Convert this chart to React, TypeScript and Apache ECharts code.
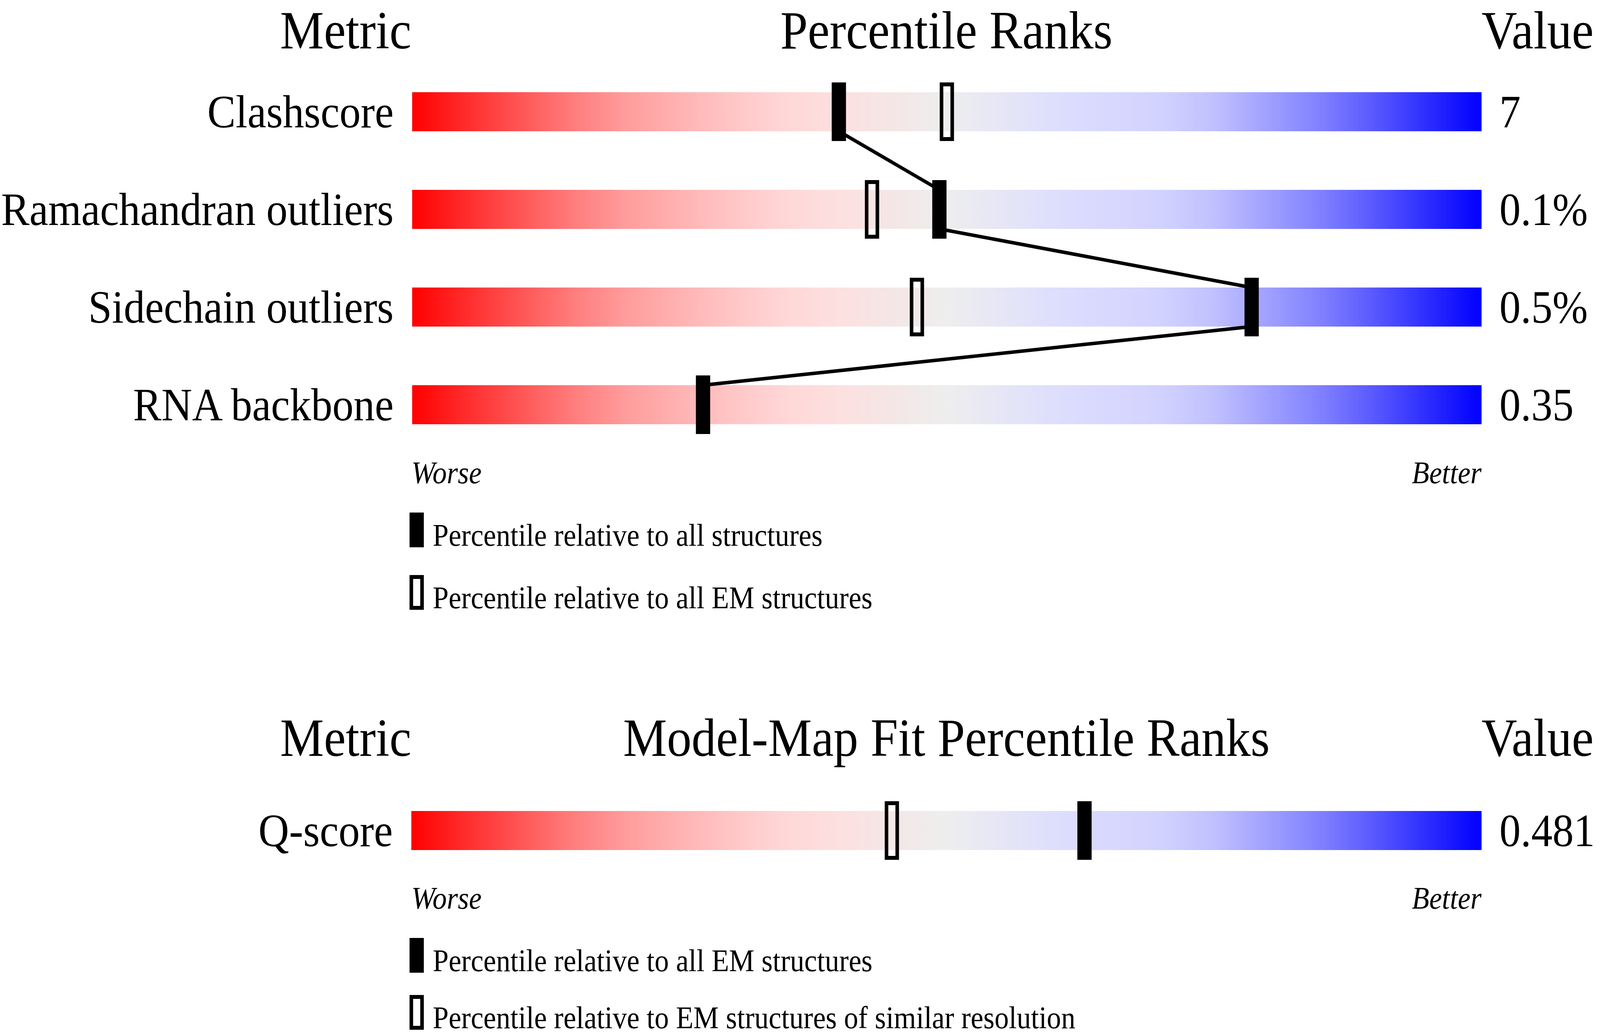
import React, { useEffect, useRef } from 'react';
import * as echarts from 'echarts';

const W = 4485;
const H = 2652;
const FONT = '"Liberation Serif", "Times New Roman", Times, serif';

// ---- data ----
const validationMetrics = ['Clashscore', 'Ramachandran outliers', 'Sidechain outliers', 'RNA backbone'];
const validationValues = ['7', '0.1%', '0.5%', '0.35'];
const pctAllStructures = [39.9, 49.3, 78.5, 27.2];
const pctAllEM: (number | null)[] = [50.0, 43.0, 47.2, null];

const fitMetrics = ['Q-score'];
const fitValues = ['0.481'];
const fitPctAllEM = [62.9];
const fitPctSimilarRes = [44.9];

const panel1Title = 'Percentile Ranks';
const panel2Title = 'Model-Map Fit Percentile Ranks';
const metricHeader = 'Metric';
const valueHeader = 'Value';
const worseLabel = 'Worse';
const betterLabel = 'Better';
const legend1Names = ['Percentile relative to all structures', 'Percentile relative to all EM structures'];
const legend2Names = ['Percentile relative to all EM structures', 'Percentile relative to EM structures of similar resolution'];

const gradientStops: [number, string][] = [
  [0.0, '#ff0000'], [0.05, '#ff2c2c'], [0.1, '#ff5454'], [0.15, '#ff7c7c'], [0.2, '#ff9c9c'],
  [0.25, '#ffb2b2'], [0.3, '#ffc6c6'], [0.35, '#ffd7d7'], [0.4, '#fde0e0'], [0.45, '#f4e6e6'],
  [0.5, '#eeeeee'], [0.55, '#e6e6f6'], [0.6, '#dedefd'], [0.65, '#d8d8ff'], [0.7, '#d2d2ff'],
  [0.75, '#c0c0ff'], [0.8, '#a0a0ff'], [0.85, '#8080ff'], [0.9, '#5858ff'], [0.95, '#2c2cff'],
  [1.0, '#0000ff'],
];

// ---- layout (px) ----
const BAR_LEFT = 1153;
const BAR_W = 3000;
const ROW = 250;
const BAR_H = 100;
const MARK_W = 40;
const MARK_H = 150;
const P1_TOP = 161;
const P2_TOP = 2001;
const HEAD_FS = 138;
const ROW_FS = 119;
const SMALL_FS = 80;
const CENTRAL = 0.3375;
const LEG_W = 40;
const LEG_H = 89;
const LEG_BORDER = 10;

const OPEN_MARK = `path://M0 0H${MARK_W}V${MARK_H}H0Z M10 10V${MARK_H - 10}H${MARK_W - 10}V10Z`;

function gradient() {
  return new echarts.graphic.LinearGradient(0, 0, 1, 0,
    gradientStops.map(([offset, color]) => ({ offset, color })));
}

function text(x: number, baseline: number, str: string, fs: number, align: string, italic = false) {
  return {
    type: 'text',
    x,
    y: baseline - CENTRAL * fs,
    silent: true,
    style: {
      text: str,
      fontSize: fs,
      fontFamily: FONT,
      fontStyle: italic ? 'italic' : 'normal',
      fill: '#000',
      textAlign: align,
      textVerticalAlign: 'middle',
    },
  };
}

function legendItems(names: string[], tops: number[], openIndex: number) {
  const out: any[] = [];
  names.forEach((name, i) => {
    const top = tops[i];
    if (i === openIndex) {
      out.push({
        type: 'rect',
        silent: true,
        shape: { x: 1148 + LEG_BORDER / 2, y: top + LEG_BORDER / 2, width: LEG_W - LEG_BORDER, height: LEG_H - LEG_BORDER },
        style: { fill: 'none', stroke: '#000', lineWidth: LEG_BORDER },
      });
    } else {
      out.push({
        type: 'rect',
        silent: true,
        shape: { x: 1148, y: top, width: LEG_W, height: LEG_H },
        style: { fill: '#000' },
      });
    }
    out.push(text(1213, top + 85, name, SMALL_FS, 'left'));
  });
  return out;
}

function buildOption() {
  const catAxis = (gridIndex: number, data: string[], position: 'left' | 'right') => ({
    type: 'category',
    gridIndex,
    data,
    inverse: true,
    position,
    axisLine: { show: false },
    axisTick: { show: false },
    splitLine: { show: false },
    axisLabel: {
      interval: 0,
      margin: position === 'left' ? 52 : 50,
      fontFamily: FONT,
      fontSize: ROW_FS,
      color: '#000',
      padding: [20, 0, 0, 0],
    },
  });
  const valAxis = (gridIndex: number) => ({
    type: 'value',
    gridIndex,
    min: 0,
    max: 100,
    show: false,
  });

  const connectorSeries = (xi: number, yi: number, pcts: number[]) => ({
    type: 'custom',
    xAxisIndex: xi,
    yAxisIndex: yi,
    z: 2,
    silent: true,
    data: pcts.map((v, i) => [v, i]),
    renderItem: (params: any, api: any) => {
      const i = params.dataIndex;
      if (i >= pcts.length - 1) return null;
      const p0 = api.coord([pcts[i], i]);
      const p1 = api.coord([pcts[i + 1], i + 1]);
      return {
        type: 'line',
        shape: { x1: p0[0], y1: p0[1] + BAR_H / 2, x2: p1[0], y2: p1[1] - BAR_H / 2 },
        style: { stroke: '#000', lineWidth: 9, fill: null },
      };
    },
  });

  const barSeries = (xi: number, yi: number, n: number) => ({
    type: 'bar',
    xAxisIndex: xi,
    yAxisIndex: yi,
    z: 1,
    silent: true,
    barWidth: BAR_H,
    data: new Array(n).fill(100),
    itemStyle: { color: gradient() },
  });

  const markSeries = (name: string, xi: number, yi: number, pcts: (number | null)[], open: boolean) => ({
    type: 'scatter',
    name,
    xAxisIndex: xi,
    yAxisIndex: yi,
    z: 3,
    silent: true,
    symbol: open ? OPEN_MARK : 'rect',
    symbolSize: [MARK_W, MARK_H],
    data: pcts.map((v, i) => (v == null ? null : [v, i])).filter((d) => d !== null),
    itemStyle: { color: '#000', borderWidth: 0, opacity: 1 },
  });

  // Header baseline kept just low enough that the text box stays inside the page.
  const p1Base = 124;
  const p2Base = 1935;
  const worse1 = 1237;
  const worse2 = 2326;
  const barCenter = BAR_LEFT + BAR_W / 2;
  const barRight = BAR_LEFT + BAR_W;

  return {
    animation: false,
    backgroundColor: '#ffffff',
    grid: [
      { left: BAR_LEFT, top: P1_TOP, width: BAR_W, height: ROW * validationMetrics.length, containLabel: false },
      { left: BAR_LEFT, top: P2_TOP, width: BAR_W, height: ROW * fitMetrics.length, containLabel: false },
    ],
    xAxis: [valAxis(0), valAxis(1)],
    yAxis: [
      catAxis(0, validationMetrics, 'left'),
      catAxis(0, validationValues, 'right'),
      catAxis(1, fitMetrics, 'left'),
      catAxis(1, fitValues, 'right'),
    ],
    series: [
      barSeries(0, 0, validationMetrics.length),
      connectorSeries(0, 0, pctAllStructures),
      markSeries(legend1Names[0], 0, 0, pctAllStructures, false),
      markSeries(legend1Names[1], 0, 0, pctAllEM, true),
      barSeries(1, 2, fitMetrics.length),
      markSeries(legend2Names[0], 1, 2, fitPctAllEM, false),
      markSeries(legend2Names[1], 1, 2, fitPctSimilarRes, true),
    ],
    graphic: [
      text(BAR_LEFT, p1Base, metricHeader, HEAD_FS, 'right'),
      text(barCenter, p1Base, panel1Title, HEAD_FS, 'center'),
      text(barRight, p1Base, valueHeader, HEAD_FS, 'left'),
      text(BAR_LEFT, worse1, worseLabel, SMALL_FS, 'left', true),
      text(barRight, worse1, betterLabel, SMALL_FS, 'right', true),
      ...legendItems(legend1Names, [1312, 1472], 1),
      text(BAR_LEFT, p2Base, metricHeader, HEAD_FS, 'right'),
      text(barCenter, p2Base, panel2Title, HEAD_FS, 'center'),
      text(barRight, p2Base, valueHeader, HEAD_FS, 'left'),
      text(BAR_LEFT, worse2, worseLabel, SMALL_FS, 'left', true),
      text(barRight, worse2, betterLabel, SMALL_FS, 'right', true),
      ...legendItems(legend2Names, [2401, 2547], 1),
    ],
  };
}

export default function App() {
  const ref = useRef<HTMLDivElement>(null);
  useEffect(() => {
    document.body.style.margin = '0';
    document.body.style.overflow = 'hidden';
    const el = ref.current;
    if (!el) return;
    // The window may be narrower than the design size: fit the drawing into it.
    const sx = Math.min(1, window.innerWidth / W);
    const sy = Math.min(1, window.innerHeight / H);
    el.style.transform = `scale(${sx}, ${sy})`;
    const chart = echarts.init(el, null, { renderer: 'svg', width: W, height: H });
    chart.setOption(buildOption() as any);
    return () => chart.dispose();
  }, []);
  return (
    <div
      ref={ref}
      style={{
        position: 'fixed',
        left: 0,
        top: 0,
        width: W,
        height: H,
        background: '#fff',
        transformOrigin: '0 0',
      }}
    />
  );
}
